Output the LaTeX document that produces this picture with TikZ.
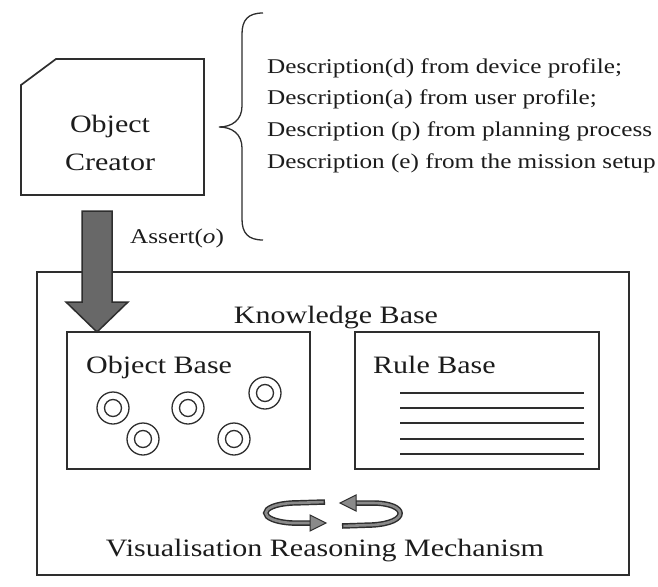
\documentclass[tikz,border=0pt]{standalone}
\usepackage{fontspec}
\setmainfont{Liberation Serif}[FakeStretch=1.2]
\definecolor{inkc}{HTML}{2E2E2E}
\definecolor{txtc}{HTML}{1C1C1C}
\definecolor{arrowgray}{HTML}{686868}
\definecolor{cycgray}{HTML}{8A8A8A}
\begin{document}
\begin{tikzpicture}[x=1pt,y=-1pt,
  ink/.style={draw=inkc, line width=1.7pt},
  thin/.style={draw=inkc, line width=1.3pt},
  lbl/.style={inner sep=0pt, text=txtc, font=\fontsize{25}{30}\selectfont},
  desc/.style={inner sep=0pt, text=txtc, font=\fontsize{21}{25}\selectfont, anchor=base west},
  ring/.style={draw=inkc, line width=1.3pt},
  rule/.style={draw=inkc, line width=1.5pt},
  blockarrow/.style={fill=arrowgray, draw=inkc, line width=1.5pt, line join=miter},
  cycout/.style={draw=inkc, line width=5.5pt},
  cycin/.style={draw=cycgray, line width=2.6pt, shorten <=1.4pt, shorten >=1.4pt},
  cyctip/.style={fill=cycgray, draw=inkc, line width=1pt, line join=miter}]
\useasboundingbox[fill=white] (0,0) rectangle (658,586);

% object creator card with clipped corner
\draw[ink] (21,85) -- (56,59) -- (204,59) -- (204,195) -- (21,195) -- cycle;
\node[lbl, anchor=base] (creatorA) at (110,132) {Object};
\node[lbl, anchor=base] (creatorB) at (110,170) {Creator};

% curly brace grouping the descriptions
\draw[thin] (263,13) .. controls (248,13) and (242,20) .. (242,34) -- (242,106)
  .. controls (242,120) and (232,127) .. (219,127)
  .. controls (232,127) and (242,134) .. (242,148) -- (242,219)
  .. controls (242,233) and (248,240) .. (263,240);

\node[desc] (descD) at (267,74) {Description(d) from device profile;};
\node[desc] (descA) at (267,104) {Description(a) from user profile;};
\node[desc] (descP) at (267,136) {Description (p) from planning process};
\node[desc] (descE) at (267,168) {Description (e) from the mission setup};

\node[desc] (assert) at (130,243) {Assert(\textit{o})};

% knowledge base frame and its two stores
\draw[ink] (37,272) rectangle (629,575);
\node[lbl, anchor=base] (kb) at (336,323) {Knowledge Base};

\draw[ink] (67,332) rectangle (310,469);
\node[lbl, anchor=base west] (ob) at (86,373) {Object Base};
\foreach \p in {(113,408),(143,439),(188,408),(234,439),(265,393)} {
  \draw[ring] \p circle[radius=16];
  \draw[ring] \p circle[radius=8.5];
}

\draw[ink] (355,332) rectangle (599,469);
\node[lbl, anchor=base west] (rb) at (373,373) {Rule Base};
\foreach \yy in {393,408,423,439,454}
  \draw[rule] (400,\yy) -- (584,\yy);

% assert arrow from the creator into the object base
\coordinate (arrowTop) at (97,211);
\draw[blockarrow, shift={(arrowTop)}] (-15,0) -- (15,0) -- (15,91) -- (31,91)
  -- (0,121) -- (-31,91) -- (-15,91) -- cycle;

% reasoning cycle
\draw[cycout] (325,502) -- (292,503) .. controls (257,505) and (257,521) .. (292,523) -- (312,523);
\draw[cycin]  (325,502) -- (292,503) .. controls (257,505) and (257,521) .. (292,523) -- (312,523);
\draw[cyctip] (326,523) -- (310,515) -- (310,531) -- cycle;
\draw[cycout] (342,526) -- (372,525) .. controls (410,523) and (409,503) .. (372,503) -- (355,503);
\draw[cycin]  (342,526) -- (372,525) .. controls (410,523) and (409,503) .. (372,503) -- (355,503);
\draw[cyctip] (340,503) -- (356,495) -- (356,511) -- cycle;

\node[lbl, anchor=base] (vrm) at (325,556) {Visualisation Reasoning Mechanism};
\end{tikzpicture}
\end{document}
